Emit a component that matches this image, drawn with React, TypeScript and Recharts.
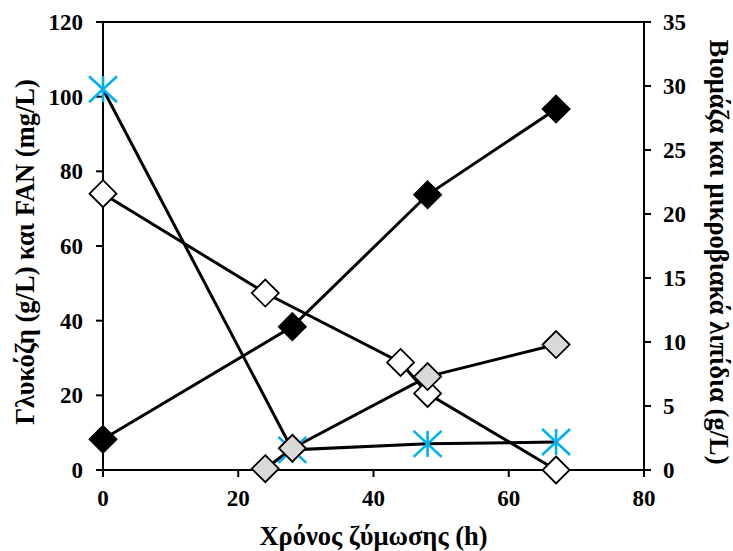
import React from "react";
import {
  LineChart,
  Line,
  XAxis,
  YAxis,
  ReferenceLine,
} from "recharts";

// time points (h) and values
const glucoseTime = [0, 24, 44, 48, 67];
const glucose = [74, 47.4, 28.8, 20.5, 0];

const fanTime = [0, 28, 48, 67];
const fan = [102, 5.4, 7, 7.5];

const biomassTime = [0, 28, 48, 67];
const biomass = [2.4, 11.2, 21.5, 28.2];

const lipidTime = [24, 28, 48, 67];
const lipids = [0.1, 1.7, 7.3, 9.8];

const xTicks = [0, 20, 40, 60, 80];
const leftTicks = [0, 20, 40, 60, 80, 100, 120];
const rightTicks = [0, 5, 10, 15, 20, 25, 30, 35];

const xTitle = "Χρόνος ζύμωσης (h)";
const leftTitle = "Γλυκόζη (g/L) και FAN (mg/L)";
const rightTitle = "Βιομάζα και μικροβιακά λιπίδια (g/L)";

const toPoints = (xs: number[], ys: number[]) =>
  xs.map((x, i) => ({ x, y: ys[i] }));

const FONT = "'Liberation Serif', 'Times New Roman', serif";
const tickStyle = { fontFamily: FONT, fontSize: 23, fontWeight: 700, fill: "#000" };

const diamond = (fill: string) => (props: any) => {
  const { cx, cy, index } = props;
  if (cx == null || cy == null) return <g key={index} />;
  const r = 13.5;
  return (
    <path
      key={index}
      d={`M${cx},${cy - r}L${cx + r},${cy}L${cx},${cy + r}L${cx - r},${cy}Z`}
      fill={fill}
      stroke="#000"
      strokeWidth={1.8}
    />
  );
};

const asterisk = (props: any) => {
  const { cx, cy, index } = props;
  if (cx == null || cy == null) return <g key={index} />;
  return (
    <g key={index} stroke="#00B0F0" strokeWidth={2.6}>
      <line x1={cx} y1={cy - 13} x2={cx} y2={cy + 13} />
      <line x1={cx - 14} y1={cy - 13} x2={cx + 14} y2={cy + 13} />
      <line x1={cx - 14} y1={cy + 13} x2={cx + 14} y2={cy - 13} />
    </g>
  );
};

const titleStyle = {
  fontFamily: FONT,
  fontSize: 26.5,
  fontWeight: 700,
  fill: "#000",
};

const LeftTitle = (props: any) => {
  const { viewBox } = props;
  const cx = viewBox.x + 25;
  const cy = viewBox.y + viewBox.height / 2 + 6;
  return (
    <text
      x={cx}
      y={cy}
      transform={`rotate(-90 ${cx} ${cy})`}
      textAnchor="middle"
      dominantBaseline="central"
      style={titleStyle}
    >
      {leftTitle}
    </text>
  );
};

const RightTitle = (props: any) => {
  const { viewBox } = props;
  const cx = viewBox.x + 75;
  const cy = viewBox.y + viewBox.height / 2 + 6;
  return (
    <text
      x={cx}
      y={cy}
      transform={`rotate(90 ${cx} ${cy})`}
      textAnchor="middle"
      dominantBaseline="central"
      style={titleStyle}
    >
      {rightTitle}
    </text>
  );
};

const BottomTitle = (props: any) => {
  const { viewBox } = props;
  const cx = viewBox.x + viewBox.width / 2;
  const cy = viewBox.y + 66;
  return (
    <text
      x={cx}
      y={cy}
      textAnchor="middle"
      dominantBaseline="central"
      style={titleStyle}
    >
      {xTitle}
    </text>
  );
};

export default function App() {
  return (
    <div style={{ position: "absolute", left: 0, top: 0, background: "#fff" }}>
      <LineChart
        width={733}
        height={551}
        margin={{ top: 22, right: 0, bottom: 0, left: 0 }}
      >
        <XAxis
          type="number"
          dataKey="x"
          domain={[0, 80]}
          ticks={xTicks}
          height={81}
          stroke="#000"
          strokeWidth={2}
          tickSize={7}
          tickMargin={13}
          tick={tickStyle}
          label={<BottomTitle />}
        />
        <YAxis
          yAxisId="left"
          type="number"
          domain={[0, 120]}
          ticks={leftTicks}
          width={103}
          stroke="#000"
          strokeWidth={2}
          tickSize={7}
          tickMargin={13}
          tick={tickStyle}
          label={<LeftTitle />}
        />
        <YAxis
          yAxisId="right"
          orientation="right"
          type="number"
          domain={[0, 35]}
          ticks={rightTicks}
          width={89}
          stroke="#000"
          strokeWidth={2}
          tickSize={7}
          tickMargin={12}
          tick={tickStyle}
          label={<RightTitle />}
        />
        <ReferenceLine yAxisId="left" y={120} stroke="#000" strokeWidth={2} />
        <Line
          yAxisId="left"
          data={toPoints(fanTime, fan)}
          dataKey="y"
          stroke="#000"
          strokeWidth={3}
          dot={asterisk}
          activeDot={false}
          isAnimationActive={false}
        />
        <Line
          yAxisId="left"
          data={toPoints(glucoseTime, glucose)}
          dataKey="y"
          stroke="#000"
          strokeWidth={3}
          dot={diamond("#fff")}
          activeDot={false}
          isAnimationActive={false}
        />
        <Line
          yAxisId="right"
          data={toPoints(biomassTime, biomass)}
          dataKey="y"
          stroke="#000"
          strokeWidth={3}
          dot={diamond("#000")}
          activeDot={false}
          isAnimationActive={false}
        />
        <Line
          yAxisId="right"
          data={toPoints(lipidTime, lipids)}
          dataKey="y"
          stroke="#000"
          strokeWidth={3}
          dot={diamond("#D9D9D9")}
          activeDot={false}
          isAnimationActive={false}
        />
      </LineChart>
    </div>
  );
}
